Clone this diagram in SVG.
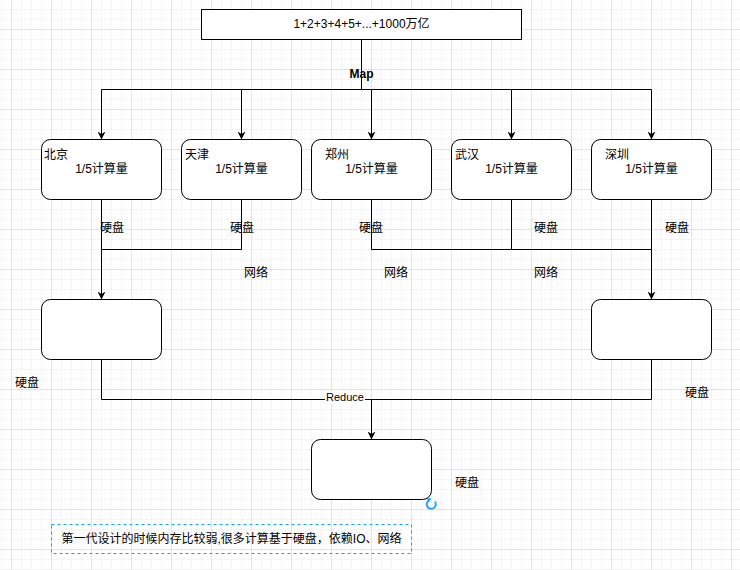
<svg xmlns="http://www.w3.org/2000/svg" width="740" height="570" viewBox="0 0 740 570">
<defs>
<pattern id="grid" patternUnits="userSpaceOnUse" x="11" y="29" width="40" height="40">
<rect x="0" y="0" width="40" height="40" fill="#ffffff"/>
<g fill="#f5f5f5">
<rect x="10" y="0" width="1" height="40"/><rect x="20" y="0" width="1" height="40"/><rect x="30" y="0" width="1" height="40"/>
<rect x="0" y="10" width="40" height="1"/><rect x="0" y="20" width="40" height="1"/><rect x="0" y="30" width="40" height="1"/>
</g>
<g fill="#e3e3e3">
<rect x="0" y="0" width="1" height="40"/><rect x="0" y="0" width="40" height="1"/>
</g>
</pattern>
<marker id="arr" viewBox="0 0 10 10" refX="10" refY="5" markerWidth="8" markerHeight="8" markerUnits="userSpaceOnUse" orient="auto">
<path d="M0,0 L10,5 L0,10 L3,5 z" fill="#000"/>
</marker>
<style>
text{font-family:"Liberation Sans","Noto Sans CJK SC",sans-serif;font-size:12px;fill:#000}
.node{fill:#fff;stroke:#000;stroke-width:1}
.edge{fill:none;stroke:#000;stroke-width:1}
.mid{text-anchor:middle}
</style>
</defs>
<rect width="740" height="570" fill="url(#grid)"/>

<g id="connectors">
<path class="edge" d="M361.5,39.5 V89.5"/>
<path class="edge" d="M101.5,89.5 H651.5"/>
<path class="edge" d="M101.5,89.5 V139.5" marker-end="url(#arr)"/>
<path class="edge" d="M241.5,89.5 V139.5" marker-end="url(#arr)"/>
<path class="edge" d="M371.5,89.5 V139.5" marker-end="url(#arr)"/>
<path class="edge" d="M511.5,89.5 V139.5" marker-end="url(#arr)"/>
<path class="edge" d="M651.5,89.5 V139.5" marker-end="url(#arr)"/>
<path class="edge" d="M101.5,199.5 V299.5" marker-end="url(#arr)"/>
<path class="edge" d="M241.5,199.5 V249.5 H101.5"/>
<path class="edge" d="M371.5,199.5 V249.5 H651.5"/>
<path class="edge" d="M511.5,199.5 V249.5"/>
<path class="edge" d="M651.5,199.5 V299.5" marker-end="url(#arr)"/>
<path class="edge" d="M101.5,359.5 V399.5 H371.5"/>
<path class="edge" d="M651.5,359.5 V399.5 H371.5"/>
<path class="edge" d="M371.5,399.5 V439.5" marker-end="url(#arr)"/>
<text class="mid" x="361.5" y="78" style="font-weight:bold">Map</text>
<rect x="325" y="391" width="40" height="13" fill="#fff"/>
<text class="mid" x="345" y="401" style="font-size:11px">Reduce</text>
<text x="100" y="232">硬盘</text>
<text x="230" y="232">硬盘</text>
<text x="359" y="232">硬盘</text>
<text x="534" y="232">硬盘</text>
<text x="665" y="232">硬盘</text>
<text x="244" y="277">网络</text>
<text x="384" y="277">网络</text>
<text x="534" y="277">网络</text>
<text x="15" y="387">硬盘</text>
<text x="685" y="397">硬盘</text>
<text x="455" y="487">硬盘</text>
</g>

<g id="total">
<rect x="201.5" y="9.5" width="320" height="30" fill="#fff" stroke="#000"/>
<text class="mid" x="361.5" y="28">1+2+3+4+5+...+1000万亿</text>
</g>

<g id="beijing">
<rect class="node" x="41.5" y="139.5" width="120" height="60" rx="9"/>
<text x="44" y="159">北京</text>
<text class="mid" x="101.5" y="173">1/5计算量</text>
</g>
<g id="tianjin">
<rect class="node" x="181.5" y="139.5" width="120" height="60" rx="9"/>
<text x="185" y="159">天津</text>
<text class="mid" x="241.5" y="173">1/5计算量</text>
</g>
<g id="zhengzhou">
<rect class="node" x="311.5" y="139.5" width="120" height="60" rx="9"/>
<text x="325" y="159">郑州</text>
<text class="mid" x="371.5" y="173">1/5计算量</text>
</g>
<g id="wuhan">
<rect class="node" x="451.5" y="139.5" width="120" height="60" rx="9"/>
<text x="455" y="159">武汉</text>
<text class="mid" x="511.5" y="173">1/5计算量</text>
</g>
<g id="shenzhen">
<rect class="node" x="591.5" y="139.5" width="120" height="60" rx="9"/>
<text x="605" y="159">深圳</text>
<text class="mid" x="651.5" y="173">1/5计算量</text>
</g>

<g id="reduce-left">
<rect class="node" x="41.5" y="299.5" width="120" height="60" rx="9"/>
</g>
<g id="reduce-right">
<rect class="node" x="591.5" y="299.5" width="120" height="60" rx="9"/>
</g>
<g id="result">
<rect class="node" x="311.5" y="439.5" width="120" height="60" rx="9"/>
<path d="M434.8,501.5 A4.5,4.5 0 1 1 429.2,500.3" fill="none" stroke="#29a8f2" stroke-width="2"/>
<path d="M426.5,497.5 L431.5,498.5 L428.5,502.5 z" fill="#29a8f2"/>
</g>

<g id="note">
<rect x="51.5" y="524.5" width="360" height="29" fill="none" stroke="#10a6f0" stroke-width="1" stroke-dasharray="3 3"/>
<text class="mid" x="231.5" y="543">第一代设计的时候内存比较弱,很多计算基于硬盘，依赖IO、网络</text>
</g>
</svg>
